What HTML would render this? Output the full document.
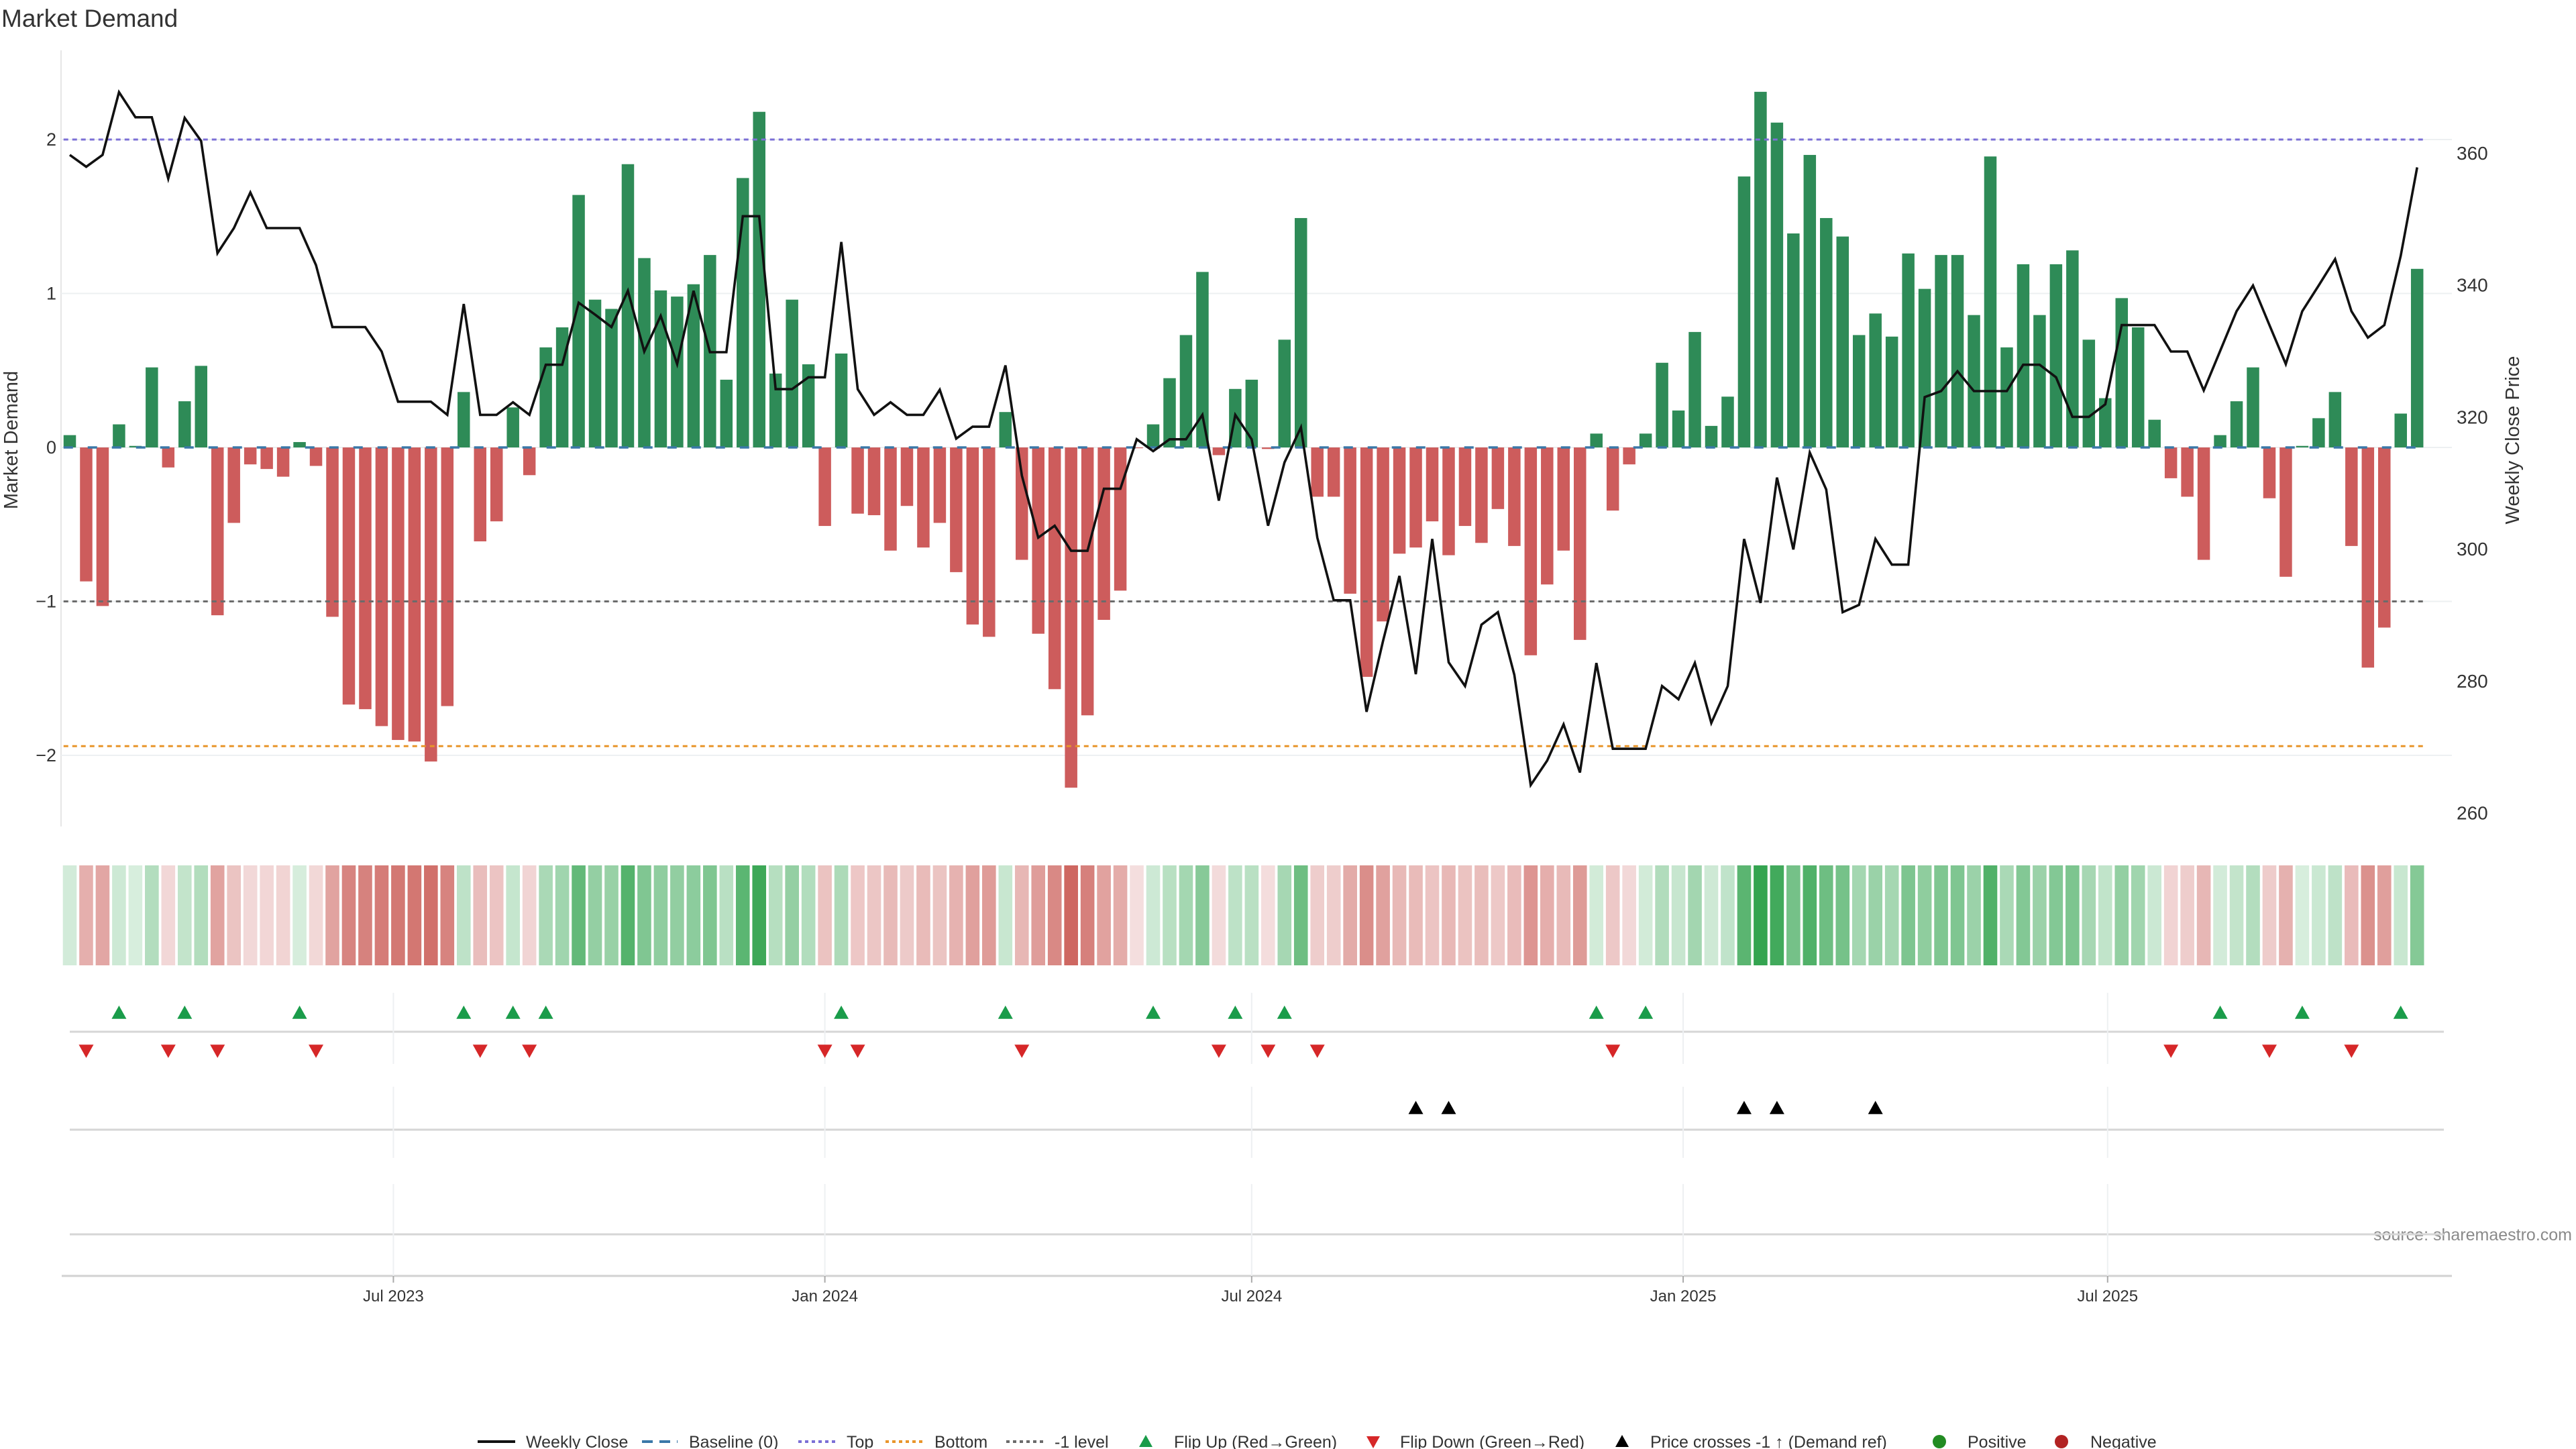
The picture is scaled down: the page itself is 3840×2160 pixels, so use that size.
<!DOCTYPE html>
<html><head><meta charset="utf-8"><title>Market Demand</title>
<style>
html,body{margin:0;padding:0;background:#fff;}
svg{display:block;font-family:"Liberation Sans","DejaVu Sans",sans-serif;}
</style></head>
<body>
<svg id="chart" width="3840" height="2160" viewBox="0 0 3840 2160" xmlns="http://www.w3.org/2000/svg">
<rect width="3840" height="2160" fill="#fff"/>
<text x="2" y="40" font-size="37" fill="#333">Market Demand</text>
<text transform="translate(26,656) rotate(-90)" text-anchor="middle" font-size="29" fill="#333">Market Demand</text>
<text transform="translate(3755,656) rotate(-90)" text-anchor="middle" font-size="29" fill="#333">Weekly Close Price</text>
<text x="3834" y="1849" text-anchor="end" font-size="25" fill="#8a8a8a">source: sharemaestro.com</text>
<g id="main"></g>
<g id="legend"></g>
</svg>
<script>
const demand = [0.08,-0.87,-1.03,0.15,0.01,0.52,-0.13,0.30,0.53,-1.09,
-0.49,-0.11,-0.14,-0.19,0.035,-0.12,-1.10,-1.67,-1.70,-1.81,
-1.90,-1.91,-2.04,-1.68,0.36,-0.61,-0.48,0.26,-0.18,0.65,
0.78,1.64,0.96,0.90,1.84,1.23,1.02,0.98,1.06,1.25,
0.44,1.75,2.18,0.48,0.96,0.54,-0.51,0.61,-0.43,-0.44,
-0.67,-0.38,-0.65,-0.49,-0.81,-1.15,-1.23,0.23,-0.73,-1.21,
-1.57,-2.21,-1.74,-1.12,-0.93,-0.005,0.15,0.45,0.73,1.14,
-0.05,0.38,0.44,-0.01,0.70,1.49,-0.32,-0.32,-0.95,-1.49,
-1.13,-0.69,-0.65,-0.48,-0.70,-0.51,-0.62,-0.40,-0.64,-1.35,
-0.89,-0.67,-1.25,0.09,-0.41,-0.11,0.09,0.55,0.24,0.75,
0.14,0.33,1.76,2.31,2.11,1.39,1.90,1.49,1.37,0.73,
0.87,0.72,1.26,1.03,1.25,1.25,0.86,1.89,0.65,1.19,
0.86,1.19,1.28,0.70,0.32,0.97,0.78,0.18,-0.20,-0.32,
-0.73,0.08,0.30,0.52,-0.33,-0.84,0.01,0.19,0.36,-0.64,
-1.43,-1.17,0.22,1.16];
const price = [359.7,357.9,359.7,369.2,365.4,365.4,356.1,365.3,361.8,344.8,
348.6,354.0,348.6,348.6,348.6,343.0,333.6,333.6,333.6,329.9,
322.3,322.3,322.3,320.3,337.1,320.3,320.3,322.2,320.3,327.9,
327.9,337.3,335.5,333.6,339.1,329.9,335.3,328.0,339.1,329.8,
329.8,350.4,350.4,324.2,324.2,326.0,326.0,346.5,324.2,320.3,
322.2,320.3,320.3,324.1,316.7,318.5,318.5,327.8,311.1,301.7,
303.5,299.7,299.7,309.1,309.1,316.6,314.8,316.6,316.6,320.3,
307.3,320.3,316.6,303.5,313.1,318.4,301.7,292.2,292.2,275.3,
286.0,295.9,281.0,301.5,282.8,279.2,288.5,290.4,280.9,264.2,
267.9,273.4,266.1,282.7,269.7,269.7,269.7,279.2,277.2,282.7,
273.6,279.2,301.5,291.8,310.8,299.9,314.6,309.0,290.4,291.5,
301.5,297.6,297.6,323.0,323.9,326.9,323.9,323.9,323.9,327.9,
327.9,326.0,320.0,320.0,321.9,333.9,333.9,333.9,329.9,329.9,
324.0,330.0,336.0,339.9,333.9,328.0,336.0,339.9,343.9,336.0,
332.0,333.9,344.4,357.8];
const crossIdx = [82,84,102,104,110];
const leftTicks = [2,1,0,-1,-2];
const leftTickLabels = ["2","1","0","\u22121","\u22122"];
const rightTicks = [360,340,320,300,280,260];
const xTickLabels = ["Jul 2023","Jan 2024","Jul 2024","Jan 2025","Jul 2025"];
const xTickDates = ["2023-07-01","2024-01-01","2024-07-01","2025-01-01","2025-07-01"];
const levelTop = 2.0, levelBottom = -1.94, levelNeg = -1.0;

const NS = "http://www.w3.org/2000/svg";
const g = document.getElementById('main');
function mk(tag, attrs, parent){const e=document.createElementNS(NS,tag);for(const k in attrs)e.setAttribute(k,attrs[k]);(parent||g).appendChild(e);return e;}

// scales
const X0 = 104, PITCH = 24.47;
const xi = i => X0 + i*PITCH;
const dayPx = PITCH/7;
const refDate = Date.UTC(2023,1,13);
const xd = s => { const p=s.split('-'); return X0 + (Date.UTC(+p[0],+p[1]-1,+p[2]) - refDate)/86400000*dayPx; };
const yL = v => 667 - v*229.5;
const yR = p => 227.9 + (360-p)*9.837;
const PL = 91, PR = 3655, PT = 75, PB = 1232;

// left spine
let e = mk('line',{x1:PL,y1:PT,x2:PL,y2:PB,stroke:'#e6e6e6','stroke-width':2});
 

// gridlines + left ticks
leftTicks.forEach((v,k)=>{
  const l = mk('line',{x1:PL,x2:PR,y1:yL(v),y2:yL(v),stroke:'#edf0f2','stroke-width':2});
   
  const t = mk('text',{x:84,y:yL(v)+9,'text-anchor':'end','font-size':27,fill:'#333'});
  t.textContent = leftTickLabels[k];
   
});
rightTicks.forEach(p=>{
  const t = mk('text',{x:3662,y:yR(p)+10,'font-size':28,fill:'#333'});
  t.textContent = p;
   
});

// bars
const BW = 18.5;
demand.forEach((v,i)=>{
  const y0 = yL(0), y1 = yL(v);
  const b = mk('rect',{x:xi(i)-BW/2,y:Math.min(y0,y1),width:BW,height:Math.max(Math.abs(y1-y0),0.5),fill:v>=0?'#2e8b57':'#cd5c5c'});
  
  
});

// reference lines
const lx1 = xi(0)-BW/2, lx2 = xi(demand.length-1)+BW/2;
function href(v,color,dash,name,w){
  const l = mk('line',{x1:lx1,x2:lx2,y1:yL(v),y2:yL(v),stroke:color,'stroke-width':w||3,'stroke-dasharray':dash});
   
}
href(0,'#3a78a8','14 22','baseline-zero-line',3.5);
href(levelTop,'#7b6fd6','7 6','top-level-line');
href(levelBottom,'#e8952a','7 6','bottom-level-line');
href(levelNeg,'#6b6b6b','7 6','minus-one-level-line');

// price line
const pts = price.map((p,i)=>xi(i).toFixed(1)+','+yR(p).toFixed(1)).join(' ');
e = mk('polyline',{points:pts,fill:'none',stroke:'#111','stroke-width':3.6,'stroke-linejoin':'miter'});
 

// heatmap strip
function heatColor(v){
  const t = Math.min(1, Math.abs(v)/2.3);
  const a = 0.18 + 0.82*t;
  const lo = v>=0 ? [216,238,222] : [244,222,222];
  const hi = v>=0 ? [52,164,80] : [204,98,92];
  const c = lo.map((c0,k)=>Math.round(c0+(hi[k]-c0)*Math.min(1,(a-0.18)/0.82)));
  return 'rgb('+c.join(',')+')';
}
demand.forEach((v,i)=>{
  const r = mk('rect',{x:xi(i)-10.3,y:1290,width:20.6,height:149,fill:heatColor(v)});
   
});

// lower panels: separators, vertical grid, axis
[[1538,'flip-panel-line'],[1684,'cross-panel-line'],[1840,'empty-panel-line']].forEach(([y,n])=>{
  const l = mk('line',{x1:104,x2:3643,y1:y,y2:y,stroke:'#d6d6d6','stroke-width':3});
   
});
e = mk('line',{x1:92,x2:3655,y1:1902,y2:1902,stroke:'#d2d2d2','stroke-width':3});
 
xTickDates.forEach((d,k)=>{
  const x = xd(d);
  [[1480,1586],[1620,1726],[1765,1902]].forEach(([a,b])=>{
    const l = mk('line',{x1:x,x2:x,y1:a,y2:b,stroke:'#eef0f2','stroke-width':2});
     
  });
  const tk = mk('line',{x1:x,x2:x,y1:1902,y2:1912,stroke:'#aaa','stroke-width':2});
   
  const t = mk('text',{x:x,y:1940,'text-anchor':'middle','font-size':24,fill:'#333'});
  t.textContent = xTickLabels[k];
   
});

// markers
function tri(x,y,up,color,name,s){
  s = s||11;
  const p = up ? [[x,y-s],[x+s,y+s*0.8],[x-s,y+s*0.8]] : [[x,y+s],[x+s,y-s*0.8],[x-s,y-s*0.8]];
  const t = mk('polygon',{points:p.map(q=>q.join(',')).join(' '),fill:color});
   
}
for(let i=1;i<demand.length;i++){
  const a = demand[i-1]>=0, b = demand[i]>=0;
  if(!a && b) tri(xi(i),1510,true,'#1a9c4a','flip-up-marker');
  if(a && !b) tri(xi(i),1566,false,'#d62728','flip-down-marker');
}
crossIdx.forEach(i=>tri(xi(i),1652,true,'#000','price-cross-marker'));

// legend
const lg = document.getElementById('legend');
const LY = 2149;
function ltext(x,s,name){const t=mk('text',{x:x,y:LY+9,'font-size':25,fill:'#333'},lg);t.textContent=s;}
function lline(x1,x2,color,dash,w,name){const l=mk('line',{x1:x1,x2:x2,y1:LY,y2:LY,stroke:color,'stroke-width':w,'stroke-dasharray':dash||'none'},lg);}
lline(712,768,'#111','',4,'legend-weekly-close-icon'); ltext(784,'Weekly Close','legend-weekly-close');
lline(957,1010,'#3a78a8','16 10',4,'legend-baseline-icon'); ltext(1027,'Baseline (0)','legend-baseline');
lline(1190,1245,'#7b6fd6','5 5',4,'legend-top-icon'); ltext(1262,'Top','legend-top');
lline(1320,1376,'#e8952a','5 5',4,'legend-bottom-icon'); ltext(1393,'Bottom','legend-bottom');
lline(1500,1556,'#6b6b6b','5 5',4,'legend-minus-one-icon'); ltext(1572,'-1 level','legend-minus-one');
function ltri(x,up,color,name){const s=10;const p=up?[[x,LY-s],[x+s,LY+s*0.8],[x-s,LY+s*0.8]]:[[x,LY+s],[x+s,LY-s*0.8],[x-s,LY-s*0.8]];const t=mk('polygon',{points:p.map(q=>q.join(',')).join(' '),fill:color},lg);}
ltri(1708,true,'#1a9c4a','legend-flip-up-icon'); ltext(1750,'Flip Up (Red\u2192Green)','legend-flip-up');
ltri(2047,false,'#d62728','legend-flip-down-icon'); ltext(2087,'Flip Down (Green\u2192Red)','legend-flip-down');
ltri(2418,true,'#000','legend-price-cross-icon'); ltext(2460,'Price crosses -1 \u2191 (Demand ref)','legend-price-cross');
e = mk('circle',{cx:2891,cy:LY,r:10,fill:'#228b22'},lg);  
ltext(2933,'Positive','legend-positive');
e = mk('circle',{cx:3073,cy:LY,r:10,fill:'#b22222'},lg);  
ltext(3116,'Negative','legend-negative');
</script>
</body></html>
